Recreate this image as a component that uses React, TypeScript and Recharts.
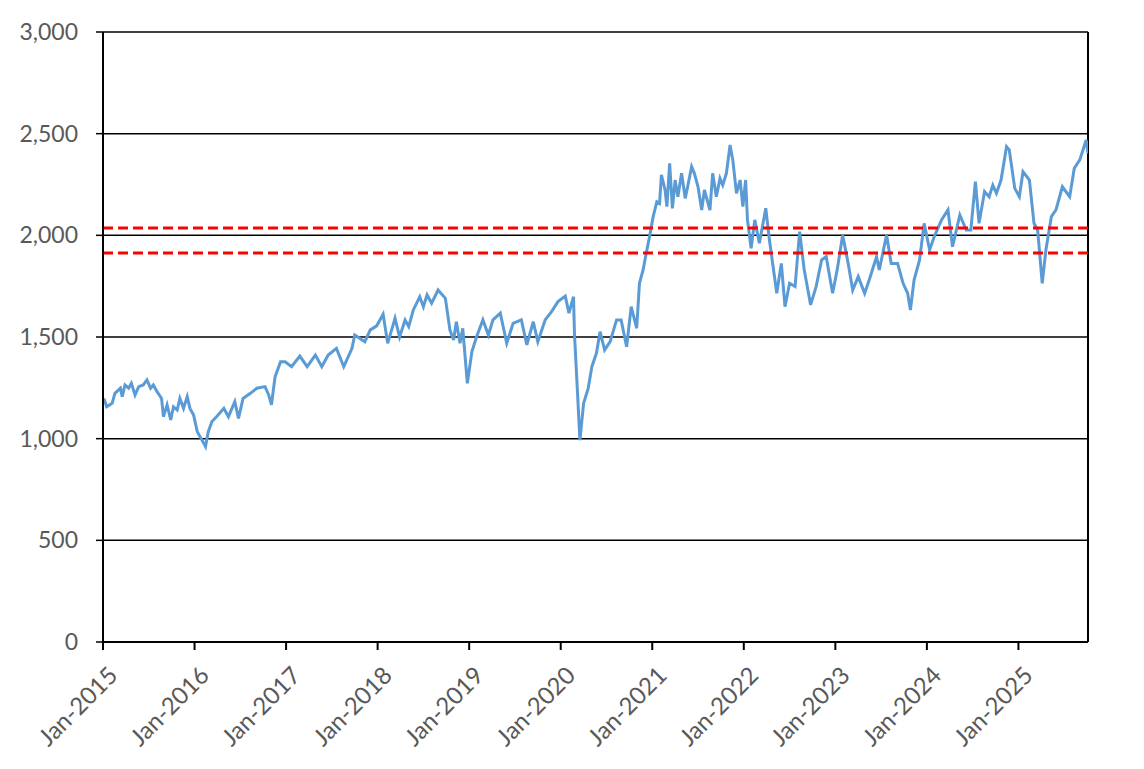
import React from "react";
import {
  LineChart,
  Line,
  XAxis,
  YAxis,
  CartesianGrid,
  ReferenceLine,
} from "recharts";

// Time positions in decimal years
const TIMES: number[] = [
  // 2015 - mid 2016
  2015.01, 2015.04, 2015.10, 2015.13, 2015.19, 2015.21, 2015.24, 2015.28, 2015.31, 2015.35,
  2015.39, 2015.44, 2015.48, 2015.52, 2015.55, 2015.59, 2015.64, 2015.66, 2015.70, 2015.74,
  2015.77, 2015.81, 2015.84, 2015.88, 2015.92, 2015.95, 2015.99, 2016.03, 2016.06, 2016.12,
  2016.15, 2016.19, 2016.24, 2016.32, 2016.37, 2016.44, 2016.48, 2016.53, 2016.61, 2016.68,
  // late 2016 - 2020
  2016.77, 2016.81, 2016.84, 2016.88, 2016.94, 2016.99, 2017.06, 2017.15,
  2017.23, 2017.32, 2017.39, 2017.46, 2017.55, 2017.63, 2017.72, 2017.75, 2017.86, 2017.92,
  2017.99, 2018.06, 2018.11, 2018.19, 2018.24, 2018.30, 2018.34, 2018.39, 2018.46, 2018.50,
  2018.54, 2018.59, 2018.66, 2018.74, 2018.79, 2018.83, 2018.86, 2018.90, 2018.93, 2018.98,
  2019.03, 2019.08, 2019.15, 2019.21, 2019.26, 2019.34, 2019.41, 2019.48, 2019.57, 2019.63,
  2019.70, 2019.75, 2019.83, 2019.90, 2019.97, 2020.05, 2020.09, 2020.14, 2020.15, 2020.21,
  2020.25, 2020.30, 2020.34, 2020.39, 2020.43, 2020.48, 2020.54, 2020.61, 2020.66, 2020.72,
  2020.77, 2020.83, 2020.86, 2020.90, 2020.92, 2020.97,
  // 2021
  2021.01, 2021.05, 2021.08, 2021.10, 2021.14, 2021.16, 2021.19, 2021.22, 2021.25, 2021.28,
  2021.32, 2021.36, 2021.39, 2021.43, 2021.46, 2021.50, 2021.54, 2021.57, 2021.63, 2021.66,
  2021.70, 2021.74, 2021.77, 2021.81, 2021.85, 2021.88, 2021.92, 2021.96, 2021.99, 2022.02,
  // 2022 - 2025
  2022.04, 2022.08,
  2022.12, 2022.17, 2022.24, 2022.28, 2022.36, 2022.41, 2022.45, 2022.50, 2022.56, 2022.61,
  2022.66, 2022.73, 2022.79, 2022.85, 2022.90, 2022.97, 2023.02, 2023.08, 2023.14, 2023.19,
  2023.25, 2023.32, 2023.37, 2023.45, 2023.48, 2023.56, 2023.61, 2023.68, 2023.74, 2023.79,
  2023.82, 2023.86, 2023.92, 2023.97, 2024.03, 2024.08, 2024.16, 2024.23, 2024.28, 2024.36,
  2024.43, 2024.48, 2024.53, 2024.57, 2024.63, 2024.68, 2024.72, 2024.76, 2024.81, 2024.87,
  2024.90, 2024.96, 2025.01, 2025.05, 2025.12, 2025.17, 2025.21, 2025.26, 2025.30, 2025.36,
  2025.41, 2025.48, 2025.56, 2025.61, 2025.67, 2025.74, 2025.76,
];

const VALUES: number[] = [
  // 2015 - mid 2016
  1198, 1157, 1174, 1223, 1248, 1207, 1264, 1248, 1272, 1215,
  1256, 1264, 1289, 1248, 1264, 1231, 1198, 1108, 1166, 1092,
  1157, 1141, 1198, 1149, 1207, 1149, 1116, 1034, 1010, 961,
  1034, 1084, 1108, 1149, 1108, 1182, 1100, 1198, 1223, 1248,
  // late 2016 - 2020
  1256, 1215, 1166, 1305, 1378, 1378, 1354, 1406,
  1354, 1411, 1354, 1411, 1444, 1354, 1444, 1510, 1477, 1535,
  1555, 1612, 1469, 1592, 1500, 1584, 1551, 1633, 1698, 1649,
  1707, 1666, 1731, 1690, 1534, 1485, 1575, 1469, 1543, 1272,
  1428, 1500, 1584, 1510, 1584, 1617, 1469, 1567, 1584, 1461,
  1575, 1477, 1584, 1625, 1674, 1701, 1617, 1698, 1518, 993,
  1174, 1247, 1354, 1420, 1526, 1436, 1477, 1584, 1584, 1452,
  1649, 1543, 1764, 1830, 1879, 1993,
  // 2021
  2092, 2165, 2157, 2297, 2223, 2141, 2354, 2133, 2272, 2190,
  2305, 2182, 2247, 2338, 2305, 2239, 2124, 2223, 2124, 2305,
  2190, 2280, 2247, 2305, 2444, 2370, 2206, 2272, 2141, 2272,
  // 2022 - 2025
  2076, 1936,
  2076, 1961, 2133, 1977, 1715, 1862, 1649, 1764, 1748, 2018,
  1830, 1658, 1748, 1879, 1895, 1715, 1830, 2002, 1862, 1731,
  1797, 1715, 1780, 1895, 1830, 2002, 1862, 1862, 1764, 1715,
  1633, 1780, 1879, 2059, 1928, 1993, 2076, 2125, 1944, 2100,
  2026, 2026, 2264, 2059, 2215, 2190, 2247, 2207, 2272, 2436,
  2420, 2231, 2190, 2313, 2272, 2059, 2026, 1764, 1928, 2092,
  2125, 2239, 2190, 2330, 2371, 2469, 2403,
];

const X_TICKS: number[] = [2015, 2016, 2017, 2018, 2019, 2020, 2021, 2022, 2023, 2024, 2025];
const Y_TICKS: number[] = [0, 500, 1000, 1500, 2000, 2500, 3000];
const X_START = 2015;
const X_END = 2025.76;
const UPPER_BAND = 2036;
const LOWER_BAND = 1913;

const data = TIMES.map((t, i) => ({ t, v: VALUES[i] }));

const LABEL_COLOR = "#595959";
const FONT = "Lato, 'Open Sans', sans-serif";

const XTick = (props: any) => {
  const { x, y, payload } = props;
  return (
    <g transform={`translate(${x + 4},${y + 13})`}>
      <text
        x={0}
        y={0}
        dy={17}
        textAnchor="end"
        fill={LABEL_COLOR}
        fontSize={24}
        fontFamily={FONT}
        transform="rotate(-45)"
      >
        {`Jan-${payload.value}`}
      </text>
    </g>
  );
};

export default function App() {
  return (
    <div style={{ width: 1136, height: 761, background: "#fff" }}>
      <LineChart
        width={1136}
        height={761}
        data={data}
        margin={{ top: 24, right: 56, bottom: 0, left: 0 }}
      >
        <CartesianGrid
          vertical={false}
          stroke="#000"
          strokeWidth={1.5}
          horizontalValues={Y_TICKS}
        />
        <XAxis
          dataKey="t"
          type="number"
          domain={[X_START, X_END]}
          ticks={X_TICKS}
          allowDataOverflow
          height={127}
          tickSize={8}
          tickLine={{ stroke: "#000", strokeWidth: 2 }}
          axisLine={{ stroke: "#000", strokeWidth: 2 }}
          tick={<XTick />}
          interval={0}
        />
        <YAxis
          type="number"
          domain={[0, 3000]}
          ticks={Y_TICKS}
          width={95}
          tickSize={7}
          tickMargin={18}
          tickLine={{ stroke: "#000", strokeWidth: 1.5 }}
          axisLine={{ stroke: "#000", strokeWidth: 2 }}
          tick={{ fill: LABEL_COLOR, fontSize: 23, fontFamily: FONT }}
          tickFormatter={(v: number) => v.toLocaleString("en-US")}
          interval={0}
        />
        <ReferenceLine x={X_END} stroke="#000" strokeWidth={2} />
        <Line
          type="linear"
          dataKey="v"
          stroke="#5B9BD5"
          strokeWidth={3}
          dot={false}
          isAnimationActive={false}
        />
        <ReferenceLine
          y={UPPER_BAND}
          stroke="#FF0000"
          strokeWidth={3}
          strokeDasharray="10 5"
        />
        <ReferenceLine
          y={LOWER_BAND}
          stroke="#FF0000"
          strokeWidth={3}
          strokeDasharray="10 5"
        />
      </LineChart>
    </div>
  );
}
